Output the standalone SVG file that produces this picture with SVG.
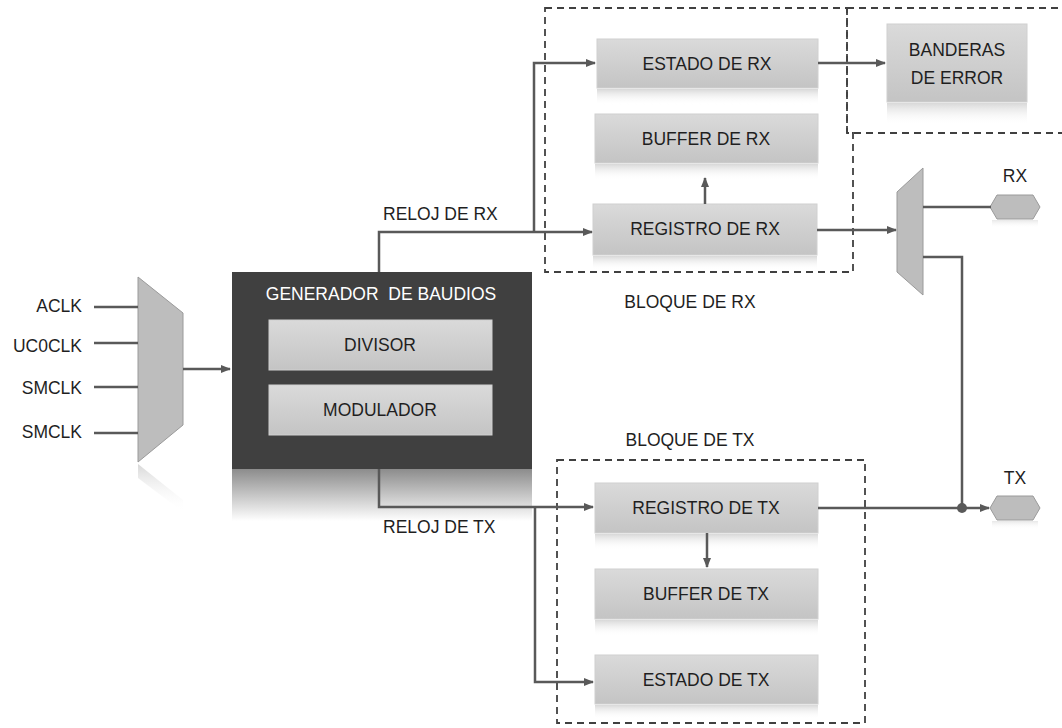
<svg xmlns="http://www.w3.org/2000/svg" width="1062" height="728" viewBox="0 0 1062 728">
<style>
.lbl{font-family:"Liberation Sans",Arial,sans-serif;font-size:17.5px;fill:#1f1f1f;text-anchor:middle;dominant-baseline:central}
.lbr{font-family:"Liberation Sans",Arial,sans-serif;font-size:17.5px;fill:#1f1f1f;text-anchor:end;dominant-baseline:central}
.lbs{font-family:"Liberation Sans",Arial,sans-serif;font-size:17.5px;fill:#1f1f1f;dominant-baseline:central}
.box{fill:url(#gBox);stroke:#d0d0d0;stroke-width:1}
.refl{fill:url(#gRefl)}
.wire{fill:none;stroke:#595959;stroke-width:2.5}
.arr{fill:none;stroke:#595959;stroke-width:2.5;marker-end:url(#ah)}
.dash{fill:none;stroke:#404040;stroke-width:1.8;stroke-dasharray:7,5}
.mux{fill:#bdbdbd;stroke:#9a9a9a;stroke-width:1}
</style>
<defs>
<linearGradient id="gBox" x1="0" y1="0" x2="0" y2="1"><stop offset="0" stop-color="#dadada"/><stop offset="1" stop-color="#c4c4c4"/></linearGradient>
<linearGradient id="gRefl" x1="0" y1="0" x2="0" y2="1"><stop offset="0" stop-color="#d8d8d8"/><stop offset="1" stop-color="#ffffff" stop-opacity="0"/></linearGradient>
<linearGradient id="gGenRefl" x1="0" y1="0" x2="0" y2="1"><stop offset="0" stop-color="#8c8c8c"/><stop offset="1" stop-color="#ffffff"/></linearGradient>
<marker id="ah" viewBox="0 0 10 10" refX="9" refY="5" markerWidth="4" markerHeight="4" orient="auto" markerUnits="strokeWidth"><path d="M0,1 L10,5 L0,9 z" fill="#595959"/></marker>
</defs>

<!-- dashed blocks -->
<g id="bloque-rx">
<path class="dash" d="M545,8 H847 V133 H853 V272 H545 Z"/>
<text class="lbl" x="690" y="302">BLOQUE DE RX</text>
</g>
<g id="bloque-banderas">
<path class="dash" d="M847,8 H1062 M847,8 V133 H1062"/>
</g>
<g id="bloque-tx">
<rect class="dash" x="557" y="460" width="308" height="263"/>
<text class="lbl" x="690" y="440">BLOQUE DE TX</text>
</g>

<!-- input labels -->
<g id="inputs">
<text class="lbr" x="82" y="306">ACLK</text>
<text class="lbr" x="82" y="346">UC0CLK</text>
<text class="lbr" x="82" y="388">SMCLK</text>
<text class="lbr" x="82" y="432">SMCLK</text>
</g>

<!-- left mux -->
<g id="mux-clk">
<polygon points="138,464 183,500 183,512 138,478" fill="url(#gRefl)"/>
<polygon class="mux" points="138,277 183,313 183,425 138,462"/>
</g>

<!-- generador -->
<g id="generador">
<rect x="232" y="469" width="300" height="52" fill="url(#gGenRefl)"/>
<rect x="232" y="272" width="300" height="197" fill="#404040"/>
<text class="lbl" x="381" y="294" style="fill:#ffffff;white-space:pre" xml:space="preserve">GENERADOR  DE BAUDIOS</text>
</g>
<g id="divisor">
<rect class="box" x="269" y="320" width="223" height="50"/>
<text class="lbl" x="380" y="345">DIVISOR</text>
</g>
<g id="modulador">
<rect class="box" x="269" y="385" width="223" height="50"/>
<text class="lbl" x="380" y="410">MODULADOR</text>
</g>

<!-- RX block -->
<g id="estado-rx">
<rect class="refl" x="597" y="89" width="221" height="16"/>
<rect class="box" x="597" y="39" width="221" height="49"/>
<text class="lbl" x="707" y="64">ESTADO DE RX</text>
</g>
<g id="buffer-rx">
<rect class="refl" x="595" y="164" width="223" height="16"/>
<rect class="box" x="595" y="114" width="223" height="49"/>
<text class="lbl" x="706" y="139">BUFFER DE RX</text>
</g>
<g id="registro-rx">
<rect class="refl" x="593" y="256" width="224" height="14"/>
<rect class="box" x="593" y="204" width="224" height="51"/>
<text class="lbl" x="705" y="229">REGISTRO DE RX</text>
</g>
<g id="banderas">
<rect class="refl" x="887" y="103" width="140" height="22"/>
<rect class="box" x="887" y="24" width="140" height="78"/>
<text class="lbl" x="957" y="50">BANDERAS</text>
<text class="lbl" x="957" y="78">DE ERROR</text>
</g>

<!-- right mux -->
<g id="mux-rxtx">
<polygon class="mux" points="897,192 923,168 923,295 897,272"/>
</g>
<g id="pin-rx">
<rect class="refl" x="992" y="220" width="46" height="8" opacity="0.6"/>
<polygon class="mux" points="997,195 1033,195 1040,207 1033,219 997,219 990,207"/>
<text class="lbl" x="1015" y="176">RX</text>
</g>
<g id="pin-tx">
<rect class="refl" x="992" y="521" width="46" height="8" opacity="0.6"/>
<polygon class="mux" points="997,496 1033,496 1040,508 1033,520 997,520 990,508"/>
<text class="lbl" x="1015" y="478">TX</text>
</g>

<!-- TX block -->
<g id="registro-tx">
<rect class="refl" x="595" y="534" width="223" height="16"/>
<rect class="box" x="595" y="483" width="223" height="50"/>
<text class="lbl" x="706" y="508">REGISTRO DE TX</text>
</g>
<g id="buffer-tx">
<rect class="refl" x="595" y="620" width="223" height="16"/>
<rect class="box" x="595" y="569" width="223" height="50"/>
<text class="lbl" x="706" y="594">BUFFER DE TX</text>
</g>
<g id="estado-tx">
<rect class="refl" x="595" y="705" width="223" height="14"/>
<rect class="box" x="595" y="655" width="223" height="49"/>
<text class="lbl" x="706" y="680">ESTADO DE TX</text>
</g>

<!-- connectors -->
<g id="connectors">
<path class="wire" d="M94,307 H138 M94,343 H138 M94,387 H138 M94,433 H138"/>
<path class="arr" d="M183,369 H230"/>
<path class="arr" d="M379,272 V232 H592"/>
<path class="arr" d="M534,232 V63 H595"/>
<path class="arr" d="M705,204 V178"/>
<path class="arr" d="M818,63 H885"/>
<path class="arr" d="M817,230 H896"/>
<path class="wire" d="M923,207 H991"/>
<path class="wire" d="M923,257 H962 V508"/>
<path class="arr" d="M379,469 V507 H593"/>
<path class="arr" d="M535,507 V682 H593"/>
<path class="arr" d="M707,533 V567"/>
<path class="wire" d="M818,508 H962"/>
<path class="arr" d="M962,508 H989"/>
<circle cx="962" cy="508" r="5" fill="#595959"/>
<text class="lbs" x="383" y="214">RELOJ DE RX</text>
<text class="lbs" x="383" y="527">RELOJ DE TX</text>
</g>
</svg>
